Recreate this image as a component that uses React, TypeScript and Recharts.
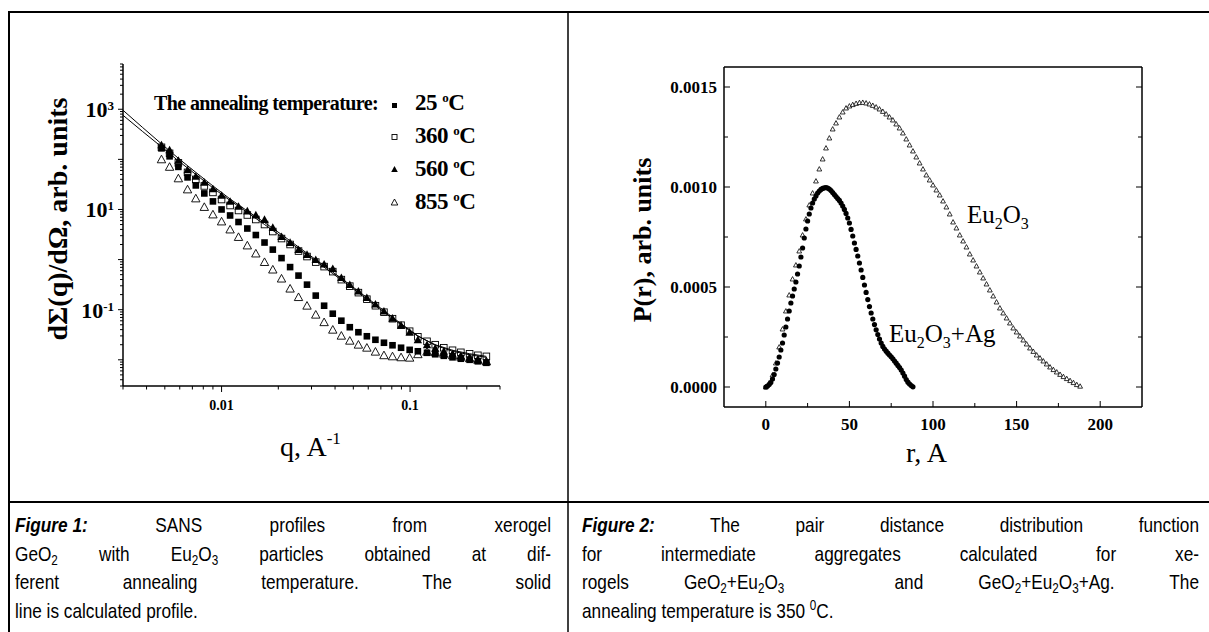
import React from "react";
import { ScatterChart, Scatter, XAxis, YAxis } from "recharts";

const SERIF = '"Liberation Serif", "Times New Roman", Times, serif';
const SANS = '"Liberation Sans", Arial, Helvetica, sans-serif';

// ---------- Figure 1: SANS profiles (log-log) ----------
const qValues = [
  0.0048, 0.0053, 0.0059, 0.0066, 0.0073, 0.0081, 0.009, 0.01, 0.0111, 0.0123,
  0.0137, 0.0152, 0.0169, 0.0187, 0.0208, 0.0231, 0.0256, 0.0284, 0.0316, 0.035,
  0.0389, 0.0432, 0.0479, 0.0532, 0.059, 0.0655, 0.0727, 0.0807, 0.0896, 0.0995,
  0.11, 0.123, 0.136, 0.151, 0.168, 0.186, 0.207, 0.229, 0.254,
];
const t25 = [
  166, 115, 70.8, 43.7, 30.2, 20.9, 14.5, 10.0, 7.59, 5.62,
  4.17, 3.09, 2.19, 1.58, 1.07, 0.708, 0.479, 0.316, 0.191, 0.12,
  0.0832, 0.0603, 0.0447, 0.0355, 0.0295, 0.0251, 0.0219, 0.0195, 0.0174, 0.0158,
  0.0148, 0.0138, 0.0129, 0.012, 0.0112, 0.0105, 0.01, 0.00933, 0.00871,
];
const t360 = [
  174, 132, 85.1, 55.0, 39.8, 29.5, 21.9, 15.8, 12.0, 9.55,
  7.76, 6.31, 5.01, 3.63, 2.63, 2.0, 1.48, 1.15, 0.891, 0.724,
  0.575, 0.398, 0.295, 0.219, 0.162, 0.12, 0.0891, 0.0661, 0.049, 0.0372,
  0.0288, 0.0234, 0.02, 0.0174, 0.0155, 0.0141, 0.0132, 0.0123, 0.0117,
];
const t560 = [
  195, 155, 95.5, 61.7, 45.7, 34.7, 25.7, 19.1, 14.5, 11.5,
  9.33, 7.76, 6.31, 4.37, 2.88, 2.19, 1.58, 1.26, 1.0, 0.813,
  0.661, 0.437, 0.316, 0.234, 0.174, 0.129, 0.0933, 0.0676, 0.049, 0.0355,
  0.0251, 0.02, 0.017, 0.0148, 0.0132, 0.012, 0.011, 0.01, 0.00912,
];
const t855 = [
  100, 70.8, 41.7, 25.1, 16.6, 11.2, 7.94, 5.75, 3.98, 2.82,
  1.91, 1.32, 0.891, 0.631, 0.417, 0.263, 0.178, 0.12, 0.0794, 0.0562,
  0.0398, 0.0302, 0.024, 0.02, 0.0174, 0.0145, 0.0123, 0.0117, 0.0112, 0.011,
  0.0129, 0.0145, 0.0141, 0.0132, 0.0123, 0.0115, 0.0107, 0.01, 0.00933,
];
// calculated profiles (solid lines)
const fitQ = [
  0.003, 0.0038, 0.0048, 0.0059, 0.0073, 0.009, 0.0111, 0.0137, 0.0169, 0.0208, 0.0256,
  0.0316, 0.0389, 0.0479, 0.059, 0.0727, 0.0896, 0.11, 0.136, 0.168, 0.207, 0.254,
];
const fitUpper = [
  955, 437, 204, 105, 55.0, 29.5, 16.2, 9.33, 5.5, 3.16, 1.78,
  1.0, 0.562, 0.316, 0.174, 0.0955, 0.0525, 0.0302, 0.0195, 0.0148, 0.0126, 0.0112,
];
const fitLower = [
  759, 363, 178, 93.3, 50.1, 26.9, 15.1, 8.71, 5.01, 2.88, 1.66,
  0.933, 0.525, 0.295, 0.162, 0.0891, 0.0501, 0.0295, 0.02, 0.0155, 0.0132, 0.0117,
];
const qTicks = [
  0.003, 0.004, 0.005, 0.006, 0.007, 0.008, 0.009,
  0.01, 0.02, 0.03, 0.04, 0.05, 0.06, 0.07, 0.08, 0.09,
  0.1, 0.2, 0.3,
];
const qTickLabels = ["0.01", "0.1"];
const vTicks = [
  0.003, 0.004, 0.005, 0.006, 0.007, 0.008, 0.009,
  0.01, 0.02, 0.03, 0.04, 0.05, 0.06, 0.07, 0.08, 0.09,
  0.1, 0.2, 0.3, 0.4, 0.5, 0.6, 0.7, 0.8, 0.9,
  1, 2, 3, 4, 5, 6, 7, 8, 9,
  10, 20, 30, 40, 50, 60, 70, 80, 90,
  100, 200, 300, 400, 500, 600, 700, 800, 900,
  1000, 2000, 3000, 4000, 5000, 6000, 7000, 8000,
];
const vLabelExponents = [-1, 1, 3];

// ---------- Figure 2: pair distance distribution ----------
const rEu2O3 = [
  0, 2, 4, 6, 8, 10, 12, 14, 16, 18, 20, 22, 24, 26, 28, 30, 32, 34, 36, 38,
  40, 42, 44, 46, 48, 50, 52, 54, 56, 58, 60, 62, 64, 66, 68, 70, 72, 74, 76, 78,
  80, 82, 84, 86, 88, 90, 92, 94, 96, 98, 100, 102, 104, 106, 108, 110, 112, 114, 116, 118,
  120, 122, 124, 126, 128, 130, 132, 134, 136, 138, 140, 142, 144, 146, 148, 150, 152, 154, 156, 158,
  160, 162, 164, 166, 168, 170, 172, 174, 176, 178, 180, 182, 184, 186, 188,
];
const pEu2O3 = [
  0, 0.2e-4, 0.6e-4, 1.2e-4, 2.0e-4, 2.9e-4, 3.8e-4, 4.6e-4, 5.4e-4, 6.1e-4,
  6.8e-4, 7.6e-4, 8.4e-4, 9.1e-4, 9.7e-4, 10.3e-4, 10.9e-4, 11.4e-4, 11.95e-4, 12.45e-4,
  12.9e-4, 13.2e-4, 13.5e-4, 13.75e-4, 13.95e-4, 14.05e-4, 14.12e-4, 14.18e-4, 14.22e-4, 14.23e-4,
  14.2e-4, 14.15e-4, 14.08e-4, 14.0e-4, 13.9e-4, 13.78e-4, 13.65e-4, 13.5e-4, 13.35e-4, 13.15e-4,
  12.95e-4, 12.7e-4, 12.4e-4, 12.1e-4, 11.8e-4, 11.5e-4, 11.2e-4, 10.9e-4, 10.6e-4, 10.35e-4,
  10.1e-4, 9.85e-4, 9.6e-4, 9.3e-4, 9.0e-4, 8.65e-4, 8.25e-4, 7.95e-4, 7.6e-4, 7.3e-4,
  7.0e-4, 6.65e-4, 6.35e-4, 6.05e-4, 5.75e-4, 5.45e-4, 5.15e-4, 4.85e-4, 4.55e-4, 4.25e-4,
  3.95e-4, 3.7e-4, 3.45e-4, 3.2e-4, 2.95e-4, 2.75e-4, 2.55e-4, 2.35e-4, 2.15e-4, 1.95e-4,
  1.78e-4, 1.6e-4, 1.45e-4, 1.3e-4, 1.15e-4, 1.0e-4, 0.87e-4, 0.75e-4, 0.63e-4, 0.52e-4,
  0.42e-4, 0.32e-4, 0.22e-4, 0.12e-4, 0.04e-4,
];
const rAg = [
  0, 1, 2, 3, 4, 5, 6, 7, 8, 9, 10, 11, 12, 13, 14, 15, 16, 17, 18, 19,
  20, 21, 22, 23, 24, 25, 26, 27, 28, 29, 30, 31, 32, 33, 34, 35, 36, 37, 38, 39,
  40, 41, 42, 43, 44, 45, 46, 47, 48, 49, 50, 51, 52, 53, 54, 55, 56, 57, 58, 59,
  60, 61, 62, 63, 64, 65, 66, 67, 68, 69, 70, 71, 72, 73, 74, 75, 76, 77, 78, 79,
  80, 81, 82, 83, 84, 85, 86, 87, 88,
];
const pAg = [
  0, 0.05e-4, 0.12e-4, 0.22e-4, 0.4e-4, 0.62e-4, 0.9e-4, 1.2e-4, 1.5e-4, 1.85e-4,
  2.2e-4, 2.6e-4, 3.0e-4, 3.4e-4, 3.8e-4, 4.2e-4, 4.55e-4, 4.9e-4, 5.25e-4, 5.65e-4,
  6.05e-4, 6.5e-4, 6.95e-4, 7.45e-4, 7.9e-4, 8.3e-4, 8.65e-4, 8.95e-4, 9.2e-4, 9.4e-4,
  9.55e-4, 9.7e-4, 9.8e-4, 9.88e-4, 9.93e-4, 9.96e-4, 9.97e-4, 9.95e-4, 9.9e-4, 9.82e-4,
  9.72e-4, 9.62e-4, 9.52e-4, 9.42e-4, 9.33e-4, 9.2e-4, 9.05e-4, 8.88e-4, 8.68e-4, 8.45e-4,
  8.2e-4, 7.88e-4, 7.55e-4, 7.2e-4, 6.88e-4, 6.55e-4, 6.2e-4, 5.85e-4, 5.48e-4, 5.1e-4,
  4.73e-4, 4.37e-4, 4.02e-4, 3.7e-4, 3.4e-4, 3.12e-4, 2.86e-4, 2.62e-4, 2.4e-4, 2.2e-4,
  2.03e-4, 1.9e-4, 1.79e-4, 1.69e-4, 1.6e-4, 1.51e-4, 1.41e-4, 1.3e-4, 1.19e-4, 1.08e-4,
  0.97e-4, 0.85e-4, 0.7e-4, 0.54e-4, 0.37e-4, 0.24e-4, 0.15e-4, 0.07e-4, 0.01e-4,
];
const rTicks = [0, 25, 50, 75, 100, 125, 150, 175, 200];
const pTicks = [0, 0.00025, 0.0005, 0.00075, 0.001, 0.00125, 0.0015];

const zipQ = (ys: number[]) => qValues.map((q, i) => ({ q, v: ys[i] }));
const data25 = zipQ(t25);
const data360 = zipQ(t360);
const data560 = zipQ(t560);
const data855 = zipQ(t855);
const dataFitUpper = fitQ.map((q, i) => ({ q, v: fitUpper[i] }));
const dataFitLower = fitQ.map((q, i) => ({ q, v: fitLower[i] }));
const dataEu = rEu2O3.map((r, i) => ({ r, p: pEu2O3[i] }));
const dataAg = rAg.map((r, i) => ({ r, p: pAg[i] }));

// ---------- markers ----------
const FilledSquare = (p: any) => (
  <rect x={p.cx - 3.3} y={p.cy - 3.3} width={6.6} height={6.6} fill="#000" />
);
const OpenSquare = (p: any) => (
  <rect x={p.cx - 3.3} y={p.cy - 3.3} width={6.6} height={6.6} fill="#fff" stroke="#000" strokeWidth={0.9} />
);
const triPath = (cx: number, cy: number, w: number, h: number) =>
  `M${cx},${cy - h * 0.55}L${cx + w / 2},${cy + h * 0.45}L${cx - w / 2},${cy + h * 0.45}Z`;
const FilledTriangle = (p: any) => <path d={triPath(p.cx, p.cy, 8.4, 7.6)} fill="#000" />;
const OpenTriangle = (p: any) => (
  <path d={triPath(p.cx, p.cy, 8.4, 7.6)} fill="none" stroke="#000" strokeWidth={0.9} />
);
const SmallOpenTriangle = (p: any) => (
  <path d={triPath(p.cx, p.cy, 4.8, 4.4)} fill="#fff" stroke="#000" strokeWidth={0.8} />
);
const Dot = (p: any) => <circle cx={p.cx} cy={p.cy} r={2.6} fill="#000" />;
const NoMarker = () => <g />;

// ---------- ticks ----------
const isDecade = (v: number) => {
  const e = Math.log10(v);
  return Math.abs(e - Math.round(e)) < 1e-6;
};

function LogXTick(props: any) {
  const { x, y, payload } = props;
  const v = payload.value as number;
  const major = isDecade(v);
  const label = qTickLabels.find((s) => Math.abs(Number(s) - v) < 1e-9);
  return (
    <g>
      <line x1={x} x2={x} y1={y} y2={y + (major ? 6 : 3.5)} stroke="#000" strokeWidth={1} />
      {label && (
        <text x={x} y={y + 24} textAnchor="middle" fontFamily={SERIF} fontWeight="bold" fontSize={14}>
          {label}
        </text>
      )}
    </g>
  );
}

function LogYTick(props: any) {
  const { x, y, payload } = props;
  const v = payload.value as number;
  const major = isDecade(v);
  const exp = Math.round(Math.log10(v));
  const show = major && vLabelExponents.includes(exp);
  return (
    <g>
      <line x1={x - (major ? 5 : 3)} x2={x} y1={y} y2={y} stroke="#000" strokeWidth={1} />
      {show && (
        <text x={x - 9} y={y + 8} textAnchor="end" fontFamily={SERIF} fontWeight="bold" fontSize={22}>
          10
          <tspan dy={-7} fontSize={13}>
            {exp}
          </tspan>
        </text>
      )}
    </g>
  );
}

const isMultiple = (v: number, step: number) => Math.abs(v / step - Math.round(v / step)) < 1e-6;

function RTick(props: any) {
  const { x, y, payload, side } = props;
  const v = payload.value as number;
  const major = isMultiple(v, 50);
  const len = major ? 6 : 4;
  const dir = side === "top" ? 1 : -1;
  return (
    <g>
      <line x1={x} x2={x} y1={y} y2={y + dir * len} stroke="#000" strokeWidth={1} />
      {side === "bottom" && major && (
        <text x={x} y={y + 23} textAnchor="middle" fontFamily={SERIF} fontWeight="bold" fontSize={17}>
          {v}
        </text>
      )}
    </g>
  );
}

function PTick(props: any) {
  const { x, y, payload, side } = props;
  const v = payload.value as number;
  const major = isMultiple(v, 0.0005);
  const len = major ? 6 : 4;
  const dir = side === "left" ? 1 : -1;
  return (
    <g>
      <line x1={x} x2={x + dir * len} y1={y} y2={y} stroke="#000" strokeWidth={1} />
      {side === "left" && major && (
        <text x={x - 7} y={y + 6} textAnchor="end" fontFamily={SERIF} fontWeight="bold" fontSize={17}>
          {v.toFixed(4)}
        </text>
      )}
    </g>
  );
}

const axisStroke = { stroke: "#000", strokeWidth: 1.5 };

function SansChart() {
  return (
    <ScatterChart width={567} height={500} margin={{ top: 64, right: 67, bottom: 84, left: 63 }}>
      <XAxis
        type="number"
        dataKey="q"
        scale="log"
        domain={[0.003, 0.3]}
        allowDataOverflow
        ticks={qTicks}
        interval={0}
        tickLine={false}
        tickSize={0}
        tickMargin={0}
        tick={(p: any) => <LogXTick {...p} />}
        axisLine={axisStroke}
        height={30}
      />
      <YAxis
        type="number"
        dataKey="v"
        scale="log"
        domain={[0.003, 8000]}
        allowDataOverflow
        ticks={vTicks}
        interval={0}
        tickLine={false}
        tickSize={0}
        tickMargin={0}
        tick={(p: any) => <LogYTick {...p} />}
        axisLine={axisStroke}
        width={60}
      />
      <Scatter data={data360} shape={OpenSquare} isAnimationActive={false} />
      <Scatter data={data25} shape={FilledSquare} isAnimationActive={false} />
      <Scatter data={data560} shape={FilledTriangle} isAnimationActive={false} />
      <Scatter data={data855} shape={OpenTriangle} isAnimationActive={false} />
      <Scatter
        data={dataFitUpper}
        shape={NoMarker}
        line={{ stroke: "#000", strokeWidth: 1 }}
        lineType="joint"
        isAnimationActive={false}
      />
      <Scatter
        data={dataFitLower}
        shape={NoMarker}
        line={{ stroke: "#000", strokeWidth: 1 }}
        lineType="joint"
        isAnimationActive={false}
      />
    </ScatterChart>
  );
}

function PrChart() {
  return (
    <ScatterChart width={639} height={500} margin={{ top: 57, right: 57, bottom: 63, left: 94 }}>
      <XAxis
        type="number"
        dataKey="r"
        domain={[-25, 225]}
        allowDataOverflow
        ticks={rTicks}
        interval={0}
        tickLine={false}
        tickSize={0}
        tickMargin={0}
        tick={(p: any) => <RTick {...p} side="bottom" />}
        axisLine={axisStroke}
        height={30}
      />
      <XAxis
        xAxisId="top"
        orientation="top"
        type="number"
        domain={[-25, 225]}
        allowDataOverflow
        ticks={rTicks}
        interval={0}
        tickLine={false}
        tickSize={0}
        tickMargin={0}
        tick={(p: any) => <RTick {...p} side="top" />}
        axisLine={axisStroke}
        height={10}
      />
      <YAxis
        type="number"
        dataKey="p"
        domain={[-0.0001, 0.0016]}
        allowDataOverflow
        ticks={pTicks}
        interval={0}
        tickLine={false}
        tickSize={0}
        tickMargin={0}
        tick={(p: any) => <PTick {...p} side="left" />}
        axisLine={axisStroke}
        width={60}
      />
      <YAxis
        yAxisId="right"
        orientation="right"
        type="number"
        domain={[-0.0001, 0.0016]}
        allowDataOverflow
        ticks={pTicks}
        interval={0}
        tickLine={false}
        tickSize={0}
        tickMargin={0}
        tick={(p: any) => <PTick {...p} side="right" />}
        axisLine={axisStroke}
        width={10}
      />
      <Scatter data={dataEu} shape={SmallOpenTriangle} isAnimationActive={false} />
      <Scatter data={dataAg} shape={Dot} isAnimationActive={false} />
    </ScatterChart>
  );
}

const sub: React.CSSProperties = { fontSize: "0.68em", verticalAlign: "-0.3em", lineHeight: 0 };
const sup: React.CSSProperties = { fontSize: "0.68em", verticalAlign: "0.55em", lineHeight: 0 };

function CaptionLine({ children, last }: { children: React.ReactNode; last?: boolean }) {
  return (
    <div
      style={{
        whiteSpace: "nowrap",
        textAlign: last ? "left" : "justify",
        textAlignLast: last ? "left" : "justify",
      }}
    >
      {children}
    </div>
  );
}

function FigLabel({ n }: { n: number }) {
  return (
    <span style={{ display: "inline-block", fontWeight: "bold", fontStyle: "italic" }}>Figure {n}:</span>
  );
}

// caption font is a narrow sans: Liberation Sans squeezed horizontally
const NARROW = 0.82;
const captionBox = (left: number, width: number): React.CSSProperties => ({
  position: "absolute",
  left,
  top: 511,
  width: width / NARROW,
  transform: `scaleX(${NARROW})`,
  transformOrigin: "0 0",
  fontFamily: SANS,
  fontSize: 21,
  lineHeight: "28.5px",
  color: "#000",
});

export default function App() {
  const legendRows = [
    { label: "25", y: 110 },
    { label: "360", y: 143 },
    { label: "560", y: 176 },
    { label: "855", y: 209 },
  ];
  const mx = 394.5;
  return (
    <div
      style={{
        position: "absolute",
        left: 0,
        top: 0,
        width: 1209,
        height: 632,
        overflow: "hidden",
        background: "#fff",
      }}
    >
      <div style={{ position: "absolute", left: 0, top: 0 }}>
        <SansChart />
      </div>
      <div style={{ position: "absolute", left: 570, top: 0 }}>
        <PrChart />
      </div>

      <svg
        width={1209}
        height={632}
        style={{ position: "absolute", left: 0, top: 0, pointerEvents: "none" }}
      >
        {/* table rules */}
        <line x1={8} y1={12} x2={1209} y2={12} stroke="#000" strokeWidth={2} />
        <line x1={9} y1={11} x2={9} y2={632} stroke="#000" strokeWidth={2} />
        <line x1={568} y1={11} x2={568} y2={632} stroke="#000" strokeWidth={1.5} />
        <line x1={8} y1={502} x2={1209} y2={502} stroke="#000" strokeWidth={2} />

        {/* Figure 1 titles */}
        <text
          transform="translate(67,219) rotate(-90)"
          textAnchor="middle"
          fontFamily={SERIF}
          fontWeight="bold"
          fontSize={28}
        >
          dΣ(q)/dΩ, arb. units
        </text>
        <text x={280} y={456} fontFamily={SERIF} fontSize={28}>
          q, A
          <tspan dy={-12} fontSize={17}>
            -1
          </tspan>
        </text>

        {/* Figure 1 legend */}
        <text
          x={154}
          y={110}
          fontFamily={SERIF}
          fontWeight="bold"
          fontSize={20}
          letterSpacing={-0.6}
        >
          The annealing temperature:
        </text>
        <rect x={mx - 2.5} y={103} width={5} height={5} fill="#000" />
        <rect x={mx - 2.5} y={134.5} width={5} height={5} fill="#fff" stroke="#000" strokeWidth={0.9} />
        <path d={`M${mx},${166}L${mx + 3.3},${172}L${mx - 3.3},${172}Z`} fill="#000" />
        <path
          d={`M${mx},${199}L${mx + 3.3},${205}L${mx - 3.3},${205}Z`}
          fill="none"
          stroke="#000"
          strokeWidth={0.9}
        />
        {legendRows.map((row) => (
          <text
            key={row.label}
            x={415}
            y={row.y}
            fontFamily={SERIF}
            fontWeight="bold"
            fontSize={23}
            letterSpacing={-0.5}
          >
            {row.label}{" "}
            <tspan dy={-8} fontSize={13}>
              o
            </tspan>
            <tspan dy={8}>C</tspan>
          </text>
        ))}

        {/* Figure 2 titles */}
        <text
          transform="translate(651,240) rotate(-90)"
          textAnchor="middle"
          fontFamily={SERIF}
          fontWeight="bold"
          fontSize={26}
        >
          P(r), arb. units
        </text>
        <text x={906} y={462} fontFamily={SERIF} fontSize={28}>
          r, A
        </text>

        {/* Figure 2 annotations */}
        <text x={967} y={223} fontFamily={SERIF} fontSize={25}>
          Eu
          <tspan dy={6} fontSize={16}>
            2
          </tspan>
          <tspan dy={-6}>O</tspan>
          <tspan dy={6} fontSize={16}>
            3
          </tspan>
        </text>
        <text x={889} y={342} fontFamily={SERIF} fontSize={25}>
          Eu
          <tspan dy={6} fontSize={16}>
            2
          </tspan>
          <tspan dy={-6}>O</tspan>
          <tspan dy={6} fontSize={16}>
            3
          </tspan>
          <tspan dy={-6}>+Ag</tspan>
        </text>
      </svg>

      {/* captions */}
      <div style={captionBox(15, 536)}>
        <CaptionLine>
          <FigLabel n={1} /> SANS profiles from xerogel
        </CaptionLine>
        <CaptionLine>
          GeO<span style={sub}>2</span> with Eu<span style={sub}>2</span>O<span style={sub}>3</span> particles
          obtained at dif-
        </CaptionLine>
        <CaptionLine>ferent annealing temperature. The solid</CaptionLine>
        <CaptionLine last>line is calculated profile.</CaptionLine>
      </div>
      <div style={captionBox(582, 617)}>
        <CaptionLine>
          <FigLabel n={2} /> The pair distance distribution function
        </CaptionLine>
        <CaptionLine>for intermediate aggregates calculated for xe-</CaptionLine>
        <CaptionLine>
          rogels GeO<span style={sub}>2</span>+Eu<span style={sub}>2</span>O<span style={sub}>3</span>
          {"\u00a0 "}and GeO<span style={sub}>2</span>+Eu<span style={sub}>2</span>O
          <span style={sub}>3</span>+Ag. The
        </CaptionLine>
        <CaptionLine last>
          annealing temperature is 350 <span style={sup}>0</span>C.
        </CaptionLine>
      </div>
    </div>
  );
}
